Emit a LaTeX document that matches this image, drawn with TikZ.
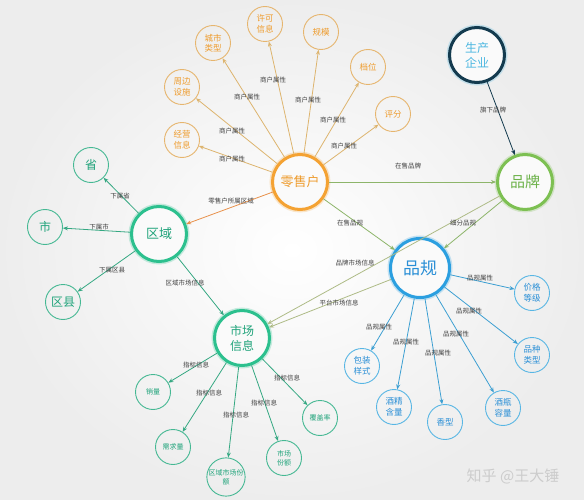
\documentclass[tikz,border=0pt]{standalone}
\usepackage{fontspec}
\setmainfont{Noto Sans CJK SC}
\usetikzlibrary{arrows.meta}
\definecolor{cOrg}{HTML}{F4A233}
\definecolor{cOrgT}{HTML}{EE9C2E}
\definecolor{cOrgS}{HTML}{E6B56E}
\definecolor{cOrgE}{HTML}{DDB46E}
\definecolor{cOrgR}{HTML}{E8914B}
\definecolor{cNavy}{HTML}{143B4F}
\definecolor{cSky}{HTML}{4AB6E0}
\definecolor{cGreen}{HTML}{7DC052}
\definecolor{cGreenT}{HTML}{6DB24A}
\definecolor{cGreenE}{HTML}{8DB56A}
\definecolor{cOlive}{HTML}{AEBB86}
\definecolor{cBlue}{HTML}{2B9FE0}
\definecolor{cBlueT}{HTML}{2A8FD6}
\definecolor{cBlueS}{HTML}{58B6E4}
\definecolor{cBlueE}{HTML}{3C9FD2}
\definecolor{cTeal}{HTML}{2CC08E}
\definecolor{cTealT}{HTML}{1FA37A}
\definecolor{cTealS}{HTML}{45B893}
\definecolor{cTealE}{HTML}{35A882}
\tikzset{
  big/.style={circle, minimum size=55pt, inner sep=0pt, line width=3pt, align=center,
    font=\fontsize{13}{15}\selectfont, fill=white!96!gray},
  halo/.style={preaction={draw=#1, line width=6pt, opacity=0.25}},
  small/.style={circle, minimum size=35pt, inner sep=0pt, line width=0.9pt, align=center,
    font=\fontsize{8.5}{10.5}\selectfont},
  osm/.style={small, draw=cOrgS, text=cOrgT},
  tsm/.style={small, draw=cTealS, text=cTealT},
  bsm/.style={small, draw=cBlueS, text=cBlueT},
  lbl/.style={font=\fontsize{6.5}{7.5}\selectfont, text=black!75, inner sep=0.5pt},
  arr/.style={-{Stealth[length=5pt,width=4pt]}, line width=0.8pt},
}
\begin{document}
\begin{tikzpicture}[x=1pt, y=-1pt]
\useasboundingbox (0,0) rectangle (584,500);
\shade[inner color=white, outer color=gray!14] (0,0) rectangle (584,500);

% main nodes
\node[big, draw=cOrg, text=cOrgT, halo=cOrg] (lsh) at (300,182) {零售户};
\node[big, draw=cNavy, text=cSky, halo=cSky, font=\fontsize{12}{15}\selectfont] (scqy) at (477,55) {生产\\企业};
\node[big, draw=cGreen, text=cGreenT, halo=cGreen, font=\fontsize{15}{17}\selectfont] (pp) at (525,182) {品牌};
\node[big, minimum size=59pt, draw=cBlue, text=cBlueT, halo=cBlue, font=\fontsize{17}{19}\selectfont] (pg) at (420,268) {品规};
\node[big, draw=cTeal, text=cTealT, halo=cTeal] (qy) at (159,234) {区域};
\node[big, draw=cTeal, text=cTealT, halo=cTeal, font=\fontsize{12}{15}\selectfont] (scxx) at (242,338) {市场\\信息};

% retailer attributes
\node[osm] (jyxx) at (182,140) {经营\\信息};
\node[osm] (zbss) at (182,87) {周边\\设施};
\node[osm] (cslx) at (213,43) {城市\\类型};
\node[osm] (xkxx) at (265,24) {许可\\信息};
\node[osm] (gm) at (321,32) {规模};
\node[osm] (dw) at (368,67) {档位};
\node[osm] (pf) at (393,114) {评分};

% region children
\node[tsm, font=\fontsize{12}{14}\selectfont] (sheng) at (91,165) {省};
\node[tsm, font=\fontsize{12}{14}\selectfont] (shi) at (45,227) {市};
\node[tsm, font=\fontsize{12}{14}\selectfont] (qx) at (63,302) {区县};

% market children
\node[tsm, font=\fontsize{7}{9}\selectfont] (xl) at (153,392) {销量};
\node[tsm, font=\fontsize{7}{9}\selectfont] (xql) at (173,447) {需求量};
\node[tsm, font=\fontsize{7}{9}\selectfont] (qyfe) at (226,477) {区域市场份\\额};
\node[tsm, font=\fontsize{7}{9}\selectfont] (scfe) at (284,458) {市场\\份额};
\node[tsm, font=\fontsize{7}{9}\selectfont] (fgl) at (320,418) {覆盖率};

% spec children
\node[bsm] (jgdj) at (532,293) {价格\\等级};
\node[bsm] (pzlx) at (532,355) {品种\\类型};
\node[bsm] (bzys) at (362,366) {包装\\样式};
\node[bsm] (jjhl) at (394,407) {酒精\\含量};
\node[bsm] (xx) at (445,422) {香型};
\node[bsm] (jprl) at (503,408) {酒瓶\\容量};

% edges
\foreach \t in {jyxx,zbss,cslx,xkxx,gm,dw,pf}
  \draw[arr, cOrgE] (lsh) -- (\t);
\draw[arr, cOrgR] (lsh) -- (qy);
\draw[arr, cGreenE] (lsh) -- (pp);
\draw[arr, cGreenE] (lsh) -- (pg);
\draw[arr, cNavy] (scqy) -- (pp);
\draw[arr, cGreenE] (pp) -- (pg);
\draw[arr, cOlive] (pp) -- (scxx);
\draw[arr, cOlive] (pg) -- (scxx);
\foreach \t in {sheng,shi,qx,scxx}
  \draw[arr, cTealE] (qy) -- (\t);
\foreach \t in {xl,xql,qyfe,scfe,fgl}
  \draw[arr, cTealE] (scxx) -- (\t);
\foreach \t in {jgdj,pzlx,bzys,jjhl,xx,jprl}
  \draw[arr, cBlueE] (pg) -- (\t);

% edge labels
\node[lbl] (l1) at (232,159) {商户属性};
\node[lbl] (l2) at (232,131) {商户属性};
\node[lbl] (l3) at (247,97) {商户属性};
\node[lbl] (l4) at (273,80) {商户属性};
\node[lbl] (l5) at (308,100) {商户属性};
\node[lbl] (l6) at (333,120) {商户属性};
\node[lbl] (l7) at (344,146) {商户属性};
\node[lbl] (l8) at (408,166) {在售品牌};
\node[lbl] (l9) at (231,201) {零售户所属区域};
\node[lbl] (l10) at (350,223) {在售品规};
\node[lbl] (l11) at (463,223) {细分品规};
\node[lbl] (l12) at (493,110) {旗下品牌};
\node[lbl] (l13) at (120,196) {下属省};
\node[lbl] (l14) at (99,227) {下属市};
\node[lbl] (l15) at (112,270) {下属区县};
\node[lbl] (l16) at (185,283) {区域市场信息};
\node[lbl] (l17) at (355,263) {品牌市场信息};
\node[lbl] (l18) at (339,303) {平台市场信息};
\node[lbl] (l19) at (480,278) {品规属性};
\node[lbl] (l20) at (469,311) {品规属性};
\node[lbl] (l21) at (379,327) {品规属性};
\node[lbl] (l22) at (406,342) {品规属性};
\node[lbl] (l23) at (456,334) {品规属性};
\node[lbl] (l24) at (438,353) {品规属性};
\node[lbl] (l25) at (196,365) {指标信息};
\node[lbl] (l26) at (209,393) {指标信息};
\node[lbl] (l27) at (236,415) {指标信息};
\node[lbl] (l28) at (264,403) {指标信息};
\node[lbl] (l29) at (287,378) {指标信息};

% watermark
\node[text=gray!40, font=\fontsize{15}{17}\selectfont] (wm) at (513,476) {知乎 @王大锤};
\end{tikzpicture}
\end{document}
